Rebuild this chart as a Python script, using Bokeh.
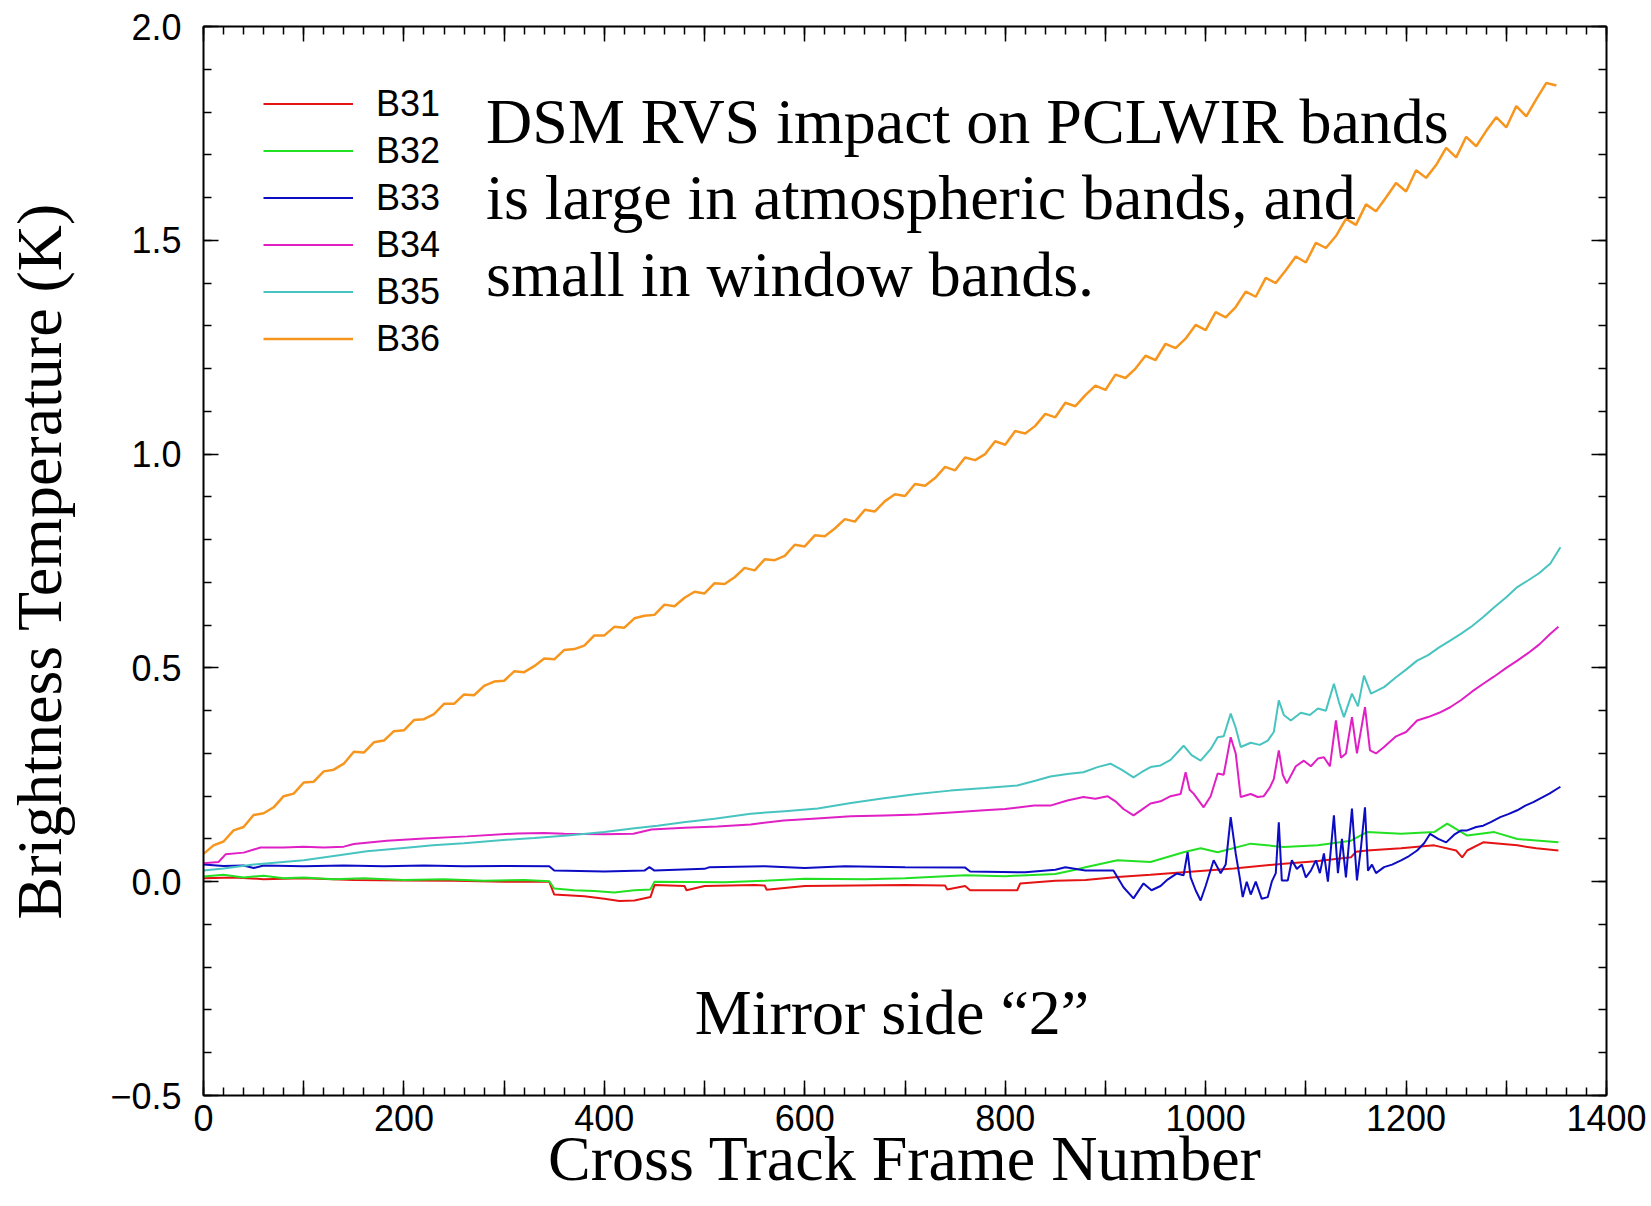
import numpy as np
from bokeh.plotting import figure
from bokeh.models import (Range1d, LinearAxis, FixedTicker, CustomJSTickFormatter,
                          Label, Legend, LegendItem)
from bokeh.embed import file_html
from bokeh.resources import INLINE

# ---------------------------------------------------------------- data
# Brightness temperature impact (K) versus cross-track frame number.

B31_FRAMES = [0, 30, 60, 100, 150, 200, 250, 300, 345, 350, 380, 400, 415, 430, 446,
              450, 480, 482, 500, 550, 560, 562, 600, 650, 700, 740, 742, 760, 765,
              812, 815, 850, 880, 912, 945, 978, 1028, 1078, 1110, 1145, 1150, 1161,
              1195, 1228, 1250, 1256, 1261, 1277, 1311, 1330, 1352]
B31_BT = [0.008, 0.010, 0.006, 0.008, 0.004, 0.003, 0.002, 0.000, 0.000, -0.030,
          -0.034, -0.040, -0.045, -0.044, -0.036, -0.008, -0.010, -0.020, -0.010,
          -0.008, -0.009, -0.019, -0.010, -0.009, -0.008, -0.009, -0.018, -0.010,
          -0.020, -0.020, -0.004, 0.002, 0.004, 0.011, 0.016, 0.022, 0.031, 0.042,
          0.048, 0.057, 0.070, 0.073, 0.078, 0.085, 0.073, 0.057, 0.073, 0.092,
          0.085, 0.078, 0.073]

B32_FRAMES = [0, 20, 40, 60, 80, 100, 130, 160, 200, 240, 280, 320, 345, 350, 370,
              390, 410, 430, 446, 450, 520, 560, 600, 660, 700, 760, 800, 850, 870,
              880, 912, 945, 978, 995, 1012, 1045, 1078, 1112, 1145, 1161, 1195,
              1228, 1241, 1261, 1288, 1311, 1352]
B32_BT = [0.012, 0.016, 0.010, 0.014, 0.008, 0.010, 0.006, 0.008, 0.004, 0.006,
          0.002, 0.004, 0.001, -0.016, -0.020, -0.022, -0.025, -0.020, -0.018,
          0.000, -0.001, 0.002, 0.007, 0.006, 0.008, 0.015, 0.013, 0.018, 0.028,
          0.034, 0.050, 0.046, 0.069, 0.078, 0.069, 0.089, 0.081, 0.085, 0.096,
          0.116, 0.112, 0.116, 0.136, 0.108, 0.116, 0.100, 0.092]

B33_FRAMES = [0, 20, 40, 50, 60, 100, 140, 180, 220, 260, 300, 345, 350, 400, 440,
              445, 450, 500, 505, 560, 600, 640, 700, 760, 765, 820, 850, 860, 880,
              900, 908, 918, 928, 938, 946, 955, 962, 971, 978, 982, 985, 990, 995,
              1000, 1008, 1015, 1020, 1025, 1030, 1034, 1037, 1041, 1045, 1050, 1056,
              1062, 1066, 1070, 1073, 1076, 1082, 1086, 1091, 1096, 1100, 1105, 1110,
              1114, 1118, 1122, 1128, 1132, 1136, 1140, 1146, 1151, 1155, 1159, 1162,
              1166, 1170, 1178, 1186, 1195, 1203, 1211, 1218, 1224, 1232, 1240, 1248,
              1255, 1261, 1270, 1277, 1285, 1294, 1302, 1311, 1319, 1327, 1335, 1343,
              1354]
B33_BT = [0.040, 0.037, 0.038, 0.032, 0.038, 0.036, 0.038, 0.036, 0.038, 0.036,
          0.037, 0.036, 0.026, 0.024, 0.026, 0.034, 0.026, 0.030, 0.034, 0.036,
          0.032, 0.036, 0.034, 0.033, 0.024, 0.022, 0.028, 0.034, 0.026, 0.026,
          0.026, -0.013, -0.039, -0.004, -0.020, -0.010, 0.005, 0.019, 0.015, 0.069,
          0.010, -0.020, -0.044, -0.010, 0.050, 0.020, 0.040, 0.151, 0.066, 0.010,
          -0.036, 0.000, -0.030, 0.000, -0.040, -0.036, 0.000, 0.020, 0.139, 0.003,
          0.003, 0.050, 0.030, 0.040, 0.010, 0.026, 0.050, 0.020, 0.066, 0.000,
          0.155, 0.020, 0.100, 0.010, 0.171, 0.003, 0.080, 0.174, 0.026, 0.040,
          0.020, 0.034, 0.040, 0.050, 0.060, 0.073, 0.090, 0.112, 0.100, 0.092,
          0.110, 0.120, 0.120, 0.128, 0.131, 0.140, 0.151, 0.158, 0.167, 0.178,
          0.186, 0.196, 0.206, 0.222]

B34_FRAMES = [0, 15, 22, 40, 57, 80, 100, 120, 140, 150, 183, 220, 263, 313, 340,
              360, 400, 429, 447, 480, 513, 546, 579, 612, 646, 680, 713, 746, 779,
              800, 829, 845, 862, 878, 890, 902, 910, 918, 928, 936, 945, 955, 965,
              975, 980, 984, 988, 998, 1005, 1012, 1018, 1025, 1030, 1035, 1045, 1052,
              1058, 1064, 1068, 1073, 1077, 1081, 1090, 1098, 1105, 1112, 1118, 1124,
              1130, 1135, 1140, 1146, 1151, 1159, 1164, 1170, 1178, 1190, 1200, 1211,
              1222, 1233, 1244, 1255, 1266, 1277, 1288, 1300, 1311, 1322, 1333, 1344,
              1352]
B34_BT = [0.043, 0.046, 0.064, 0.068, 0.080, 0.080, 0.082, 0.080, 0.082, 0.088,
          0.096, 0.101, 0.106, 0.113, 0.114, 0.112, 0.111, 0.112, 0.122, 0.126,
          0.129, 0.134, 0.143, 0.148, 0.153, 0.155, 0.157, 0.162, 0.167, 0.170,
          0.178, 0.178, 0.190, 0.198, 0.194, 0.200, 0.188, 0.170, 0.155, 0.168,
          0.183, 0.188, 0.200, 0.205, 0.256, 0.215, 0.206, 0.174, 0.200, 0.253,
          0.250, 0.338, 0.300, 0.198, 0.205, 0.198, 0.200, 0.220, 0.240, 0.307,
          0.250, 0.230, 0.270, 0.283, 0.270, 0.288, 0.291, 0.270, 0.377, 0.290,
          0.300, 0.385, 0.300, 0.408, 0.307, 0.300, 0.315, 0.340, 0.350, 0.377,
          0.385, 0.395, 0.408, 0.425, 0.445, 0.463, 0.480, 0.500, 0.517, 0.535,
          0.555, 0.580, 0.596]

B35_FRAMES = [0, 20, 50, 100, 130, 163, 200, 229, 260, 296, 330, 363, 400, 430, 453,
              479, 510, 546, 580, 613, 646, 679, 712, 745, 780, 812, 830, 845, 862,
              878, 892, 905, 916, 928, 936, 945, 955, 965, 978, 986, 995, 1005, 1012,
              1018, 1025, 1030, 1035, 1045, 1054, 1062, 1068, 1073, 1078, 1085, 1095,
              1104, 1112, 1120, 1128, 1133, 1138, 1146, 1152, 1158, 1165, 1172, 1178,
              1190, 1200, 1211, 1222, 1233, 1244, 1255, 1266, 1277, 1288, 1300, 1311,
              1322, 1333, 1344, 1354]
B35_BT = [0.026, 0.031, 0.040, 0.050, 0.060, 0.071, 0.079, 0.085, 0.090, 0.097,
          0.102, 0.108, 0.116, 0.125, 0.131, 0.139, 0.147, 0.159, 0.165, 0.171,
          0.184, 0.195, 0.205, 0.213, 0.219, 0.225, 0.236, 0.246, 0.252, 0.256,
          0.268, 0.276, 0.262, 0.244, 0.256, 0.268, 0.272, 0.285, 0.318, 0.296,
          0.283, 0.310, 0.338, 0.340, 0.393, 0.360, 0.315, 0.325, 0.320, 0.330,
          0.350, 0.424, 0.390, 0.377, 0.395, 0.390, 0.405, 0.400, 0.463, 0.420,
          0.385, 0.440, 0.410, 0.482, 0.440, 0.448, 0.455, 0.478, 0.496, 0.517,
          0.530, 0.548, 0.564, 0.580, 0.598, 0.619, 0.642, 0.665, 0.689, 0.705,
          0.722, 0.744, 0.782]

# B36 sampled every 10 frames
B36_FRAMES = list(range(0, 1351, 10))
B36_BT = [0.065, 0.085, 0.094, 0.120, 0.128, 0.156, 0.160, 0.174, 0.200, 0.206,
          0.232, 0.234, 0.258, 0.262, 0.276, 0.304, 0.302, 0.326, 0.330, 0.352,
          0.354, 0.378, 0.380, 0.392, 0.416, 0.416, 0.438, 0.436, 0.458, 0.468,
          0.470, 0.492, 0.490, 0.504, 0.522, 0.520, 0.542, 0.544, 0.552, 0.576,
          0.576, 0.596, 0.594, 0.616, 0.622, 0.624, 0.648, 0.644, 0.664, 0.678,
          0.674, 0.698, 0.696, 0.712, 0.734, 0.728, 0.754, 0.752, 0.762, 0.788,
          0.784, 0.810, 0.808, 0.826, 0.848, 0.842, 0.870, 0.866, 0.890, 0.906,
          0.902, 0.930, 0.926, 0.944, 0.970, 0.962, 0.992, 0.986, 1.000, 1.030,
          1.022, 1.054, 1.048, 1.066, 1.094, 1.086, 1.120, 1.112, 1.138, 1.160,
          1.150, 1.186, 1.178, 1.200, 1.230, 1.220, 1.258, 1.248, 1.270, 1.302,
          1.290, 1.332, 1.320, 1.344, 1.380, 1.368, 1.412, 1.400, 1.430, 1.462,
          1.448, 1.494, 1.482, 1.510, 1.550, 1.536, 1.584, 1.568, 1.600, 1.634,
          1.614, 1.664, 1.646, 1.676, 1.716, 1.694, 1.742, 1.720, 1.756, 1.788,
          1.764, 1.814, 1.790, 1.830, 1.868, 1.862]

BANDS = ["B31", "B32", "B33", "B34", "B35", "B36"]
BAND_COLORS = ["#e41414", "#22e022", "#0c0cc4", "#e020c4", "#48c4c0", "#f7961e"]
BAND_WIDTHS = [2, 2, 2, 2, 2, 2.5]
SERIES = [(B31_FRAMES, B31_BT), (B32_FRAMES, B32_BT), (B33_FRAMES, B33_BT),
          (B34_FRAMES, B34_BT), (B35_FRAMES, B35_BT), (B36_FRAMES, B36_BT)]

X_MAJOR = list(range(0, 1401, 100))
X_MINOR = list(range(0, 1401, 20))
Y_MAJOR = [-0.5, 0.0, 0.5, 1.0, 1.5, 2.0]
Y_MINOR = [round(-0.5 + 0.1 * i, 1) for i in range(26)]

NOTE_LINES = ["DSM RVS impact on PCLWIR bands",
              "is large in atmospheric bands, and",
              "small in window bands."]
SIDE_TEXT = "Mirror side \u201c2\u201d"
X_TITLE = "Cross Track Frame Number"
Y_TITLE = "Brightness Temperature (K)"

# ---------------------------------------------------------------- figure
SERIF = "Liberation Serif"
SANS = "Liberation Sans"

p = figure(width=1651, height=1206,
           x_range=Range1d(0, 1400), y_range=Range1d(-0.5, 2.0),
           output_backend="svg", toolbar_location=None,
           min_border_left=203, min_border_right=45,
           min_border_top=26, min_border_bottom=111)
p.outline_line_color = None
p.background_fill_color = "white"
p.border_fill_color = "white"
p.xgrid.visible = False
p.ygrid.visible = False

x_fmt = CustomJSTickFormatter(code="return (Math.round(tick) % 200 === 0) ? tick.toFixed(0) : '';")
y_fmt = CustomJSTickFormatter(code="return tick.toFixed(1).replace('-', '\u2212');")
blank = CustomJSTickFormatter(code="return '';")


def style_axis(ax, labelled):
    ax.axis_line_color = "black"
    ax.axis_line_width = 2
    ax.major_tick_in = 15
    ax.major_tick_out = 0
    ax.minor_tick_in = 8
    ax.minor_tick_out = 0
    ax.major_tick_line_color = "black"
    ax.minor_tick_line_color = "black"
    ax.major_tick_line_width = 1.5
    ax.minor_tick_line_width = 1.5
    ax.major_label_text_font = SANS
    ax.major_label_text_color = "black"
    ax.axis_label_text_font = SERIF
    ax.axis_label_text_font_size = "64px"
    ax.axis_label_text_font_style = "normal"
    ax.axis_label_text_color = "black"
    if labelled:
        ax.major_label_text_font_size = "36px"
    else:
        ax.major_label_text_font_size = "1px"
        ax.major_label_standoff = 0


xb = p.xaxis[0]
xb.ticker = FixedTicker(ticks=X_MAJOR, minor_ticks=X_MINOR)
xb.formatter = x_fmt
style_axis(xb, True)
xb.major_label_standoff = 9
xb.axis_label = X_TITLE
xb.axis_label_standoff = -11

yl = p.yaxis[0]
yl.ticker = FixedTicker(ticks=Y_MAJOR, minor_ticks=Y_MINOR)
yl.formatter = y_fmt
style_axis(yl, True)
yl.major_label_standoff = 22
yl.axis_label = Y_TITLE
yl.axis_label_standoff = 32

xt = LinearAxis(ticker=FixedTicker(ticks=X_MAJOR, minor_ticks=X_MINOR), formatter=blank)
style_axis(xt, False)
p.add_layout(xt, "above")

yr = LinearAxis(ticker=FixedTicker(ticks=Y_MAJOR, minor_ticks=Y_MINOR), formatter=blank)
style_axis(yr, False)
p.add_layout(yr, "right")

# ---------------------------------------------------------------- lines
items = []
for name, color, lw, (fx, fy) in zip(BANDS, BAND_COLORS, BAND_WIDTHS, SERIES):
    r = p.line(fx, fy, line_color=color, line_width=lw)
    items.append(LegendItem(label=name, renderers=[r]))

legend = Legend(items=items, location=(60, 733), orientation="vertical",
                glyph_width=90, glyph_height=47, label_height=47, spacing=0,
                padding=0, margin=0, label_standoff=23,
                label_text_font=SANS, label_text_font_size="36px",
                label_text_color="black", border_line_color=None,
                background_fill_alpha=0)
p.add_layout(legend)

# ---------------------------------------------------------------- text
for txt, y in zip(NOTE_LINES, [1.778, 1.600, 1.420]):
    p.add_layout(Label(x=282, y=y, text=txt, text_font=SERIF, text_font_size="64px",
                       text_color="black", text_align="left", text_baseline="alphabetic"))

p.add_layout(Label(x=687, y=-0.306, text=SIDE_TEXT, text_font=SERIF, text_font_size="64px",
                   text_color="black", text_align="center", text_baseline="alphabetic"))

with open("out.html", "w", encoding="utf-8") as f:
    f.write(file_html(p, INLINE))
